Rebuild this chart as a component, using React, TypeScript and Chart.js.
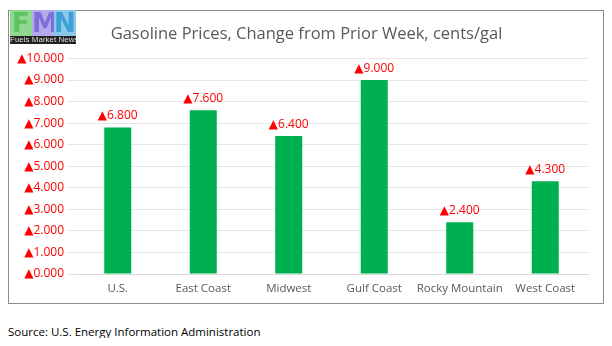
import React, { useEffect, useRef } from "react";
import { Chart, registerables } from "chart.js";

Chart.register(...registerables);

const categories = ["U.S.", "East Coast", "Midwest", "Gulf Coast", "Rocky Mountain", "West Coast"];
const changes = [6.8, 7.6, 6.4, 9.0, 2.4, 4.3];
const yTicks = [0, 1, 2, 3, 4, 5, 6, 7, 8, 9, 10];
const titleText = "Gasoline Prices, Change from Prior Week, cents/gal";
const sourceText = "Source: U.S. Energy Information Administration";

const FONT = "'Open Sans', 'DejaVu Sans', sans-serif";

const fmt = (v: number) => "\u25B2" + v.toFixed(3);

const labelPlugin = {
  id: "barLabels",
  afterDatasetsDraw(chart: any) {
    const ctx = chart.ctx;
    const meta = chart.getDatasetMeta(0);
    ctx.save();
    ctx.fillStyle = "#ff0000";
    ctx.font = `12px ${FONT}`;
    ctx.textAlign = "center";
    ctx.textBaseline = "alphabetic";
    meta.data.forEach((bar: any, i: number) => {
      ctx.fillText(fmt(changes[i]), bar.x, bar.y - 8);
    });
    ctx.restore();
  },
};

export default function App() {
  const ref = useRef<HTMLCanvasElement>(null);
  useEffect(() => {
    if (!ref.current) return;
    const chart = new Chart(ref.current, {
      type: "bar",
      data: {
        labels: categories,
        datasets: [
          {
            data: changes,
            backgroundColor: "#00b050",
            barPercentage: 0.316,
            categoryPercentage: 1,
          },
        ],
      },
      options: {
        animation: false,
        responsive: false,
        layout: { padding: { left: 0, right: 15, top: 47.5, bottom: 5 } },
        plugins: {
          legend: { display: false },
          tooltip: { enabled: false },
          title: { display: false },
        },
        scales: {
          x: {
            grid: { display: false, drawTicks: false },
            border: { display: true, color: "#d9d9d9" },
            ticks: {
              color: "#595959",
              font: { family: FONT, size: 11.5 },
              padding: 8,
              maxRotation: 0,
              minRotation: 0,
              autoSkip: false,
            },
            afterFit: (s: any) => {
              s.height = 24;
            },
          },
          y: {
            min: 0,
            max: 10,
            afterFit: (s: any) => {
              s.width = 66;
            },
            afterBuildTicks: (s: any) => {
              s.ticks = yTicks.map((v) => ({ value: v }));
            },
            grid: { color: "#e6e6e6", tickLength: 8, tickColor: "#e6e6e6" },
            border: { display: false },
            ticks: {
              color: "#ff0000",
              font: { family: FONT, size: 12 },
              padding: 3,
              callback: (v: any) => fmt(Number(v)),
            },
          },
        },
      },
      plugins: [labelPlugin],
    });
    return () => chart.destroy();
  }, []);

  return (
    <div style={{ position: "relative", width: 596, height: 330 }}>
      <div
        style={{
          position: "absolute",
          left: 0,
          top: 2,
          width: 594,
          height: 292,
          border: "1px solid #8c8c8c",
        }}
      >
        <canvas ref={ref} width={594} height={292} style={{ display: "block" }} />
      </div>
      <div
        style={{
          position: "absolute",
          left: 0,
          top: 14,
          width: 597,
          textAlign: "center",
          fontFamily: FONT,
          fontSize: 16.5,
          lineHeight: "22px",
          color: "#595959",
          whiteSpace: "nowrap",
        }}
      >
        {titleText}
      </div>
      <div
        style={{
          position: "absolute",
          left: 2,
          top: 2,
          width: 66,
          height: 34,
          background: "#dfe8ef",
          overflow: "hidden",
        }}
      >
        <div style={{ display: "flex", height: 26, fontFamily: "'DejaVu Sans', sans-serif", fontWeight: "bold", fontSize: 26, lineHeight: "26px" }}>
          <div style={{ width: 22, background: "#8fd88f", color: "#5ec25e", textAlign: "center" }}>F</div>
          <div style={{ width: 22, background: "#b3a9ec", color: "#7d6fd8", textAlign: "center" }}>M</div>
          <div style={{ width: 22, background: "#8cc8ea", color: "#3d9ed8", textAlign: "center" }}>N</div>
        </div>
        <div
          style={{
            height: 8,
            background: "#222",
            color: "#ddd",
            fontFamily: "'Liberation Sans Narrow', 'Liberation Sans', sans-serif",
            fontSize: 8,
            lineHeight: "8px",
            whiteSpace: "nowrap",
            textAlign: "center",
          }}
        >
          Fuels Market News
        </div>
      </div>
      <div
        style={{
          position: "absolute",
          left: 0,
          top: 316,
          fontFamily: FONT,
          fontSize: 11.5,
          color: "#000",
          whiteSpace: "nowrap",
        }}
      >
        {sourceText}
      </div>
    </div>
  );
}
